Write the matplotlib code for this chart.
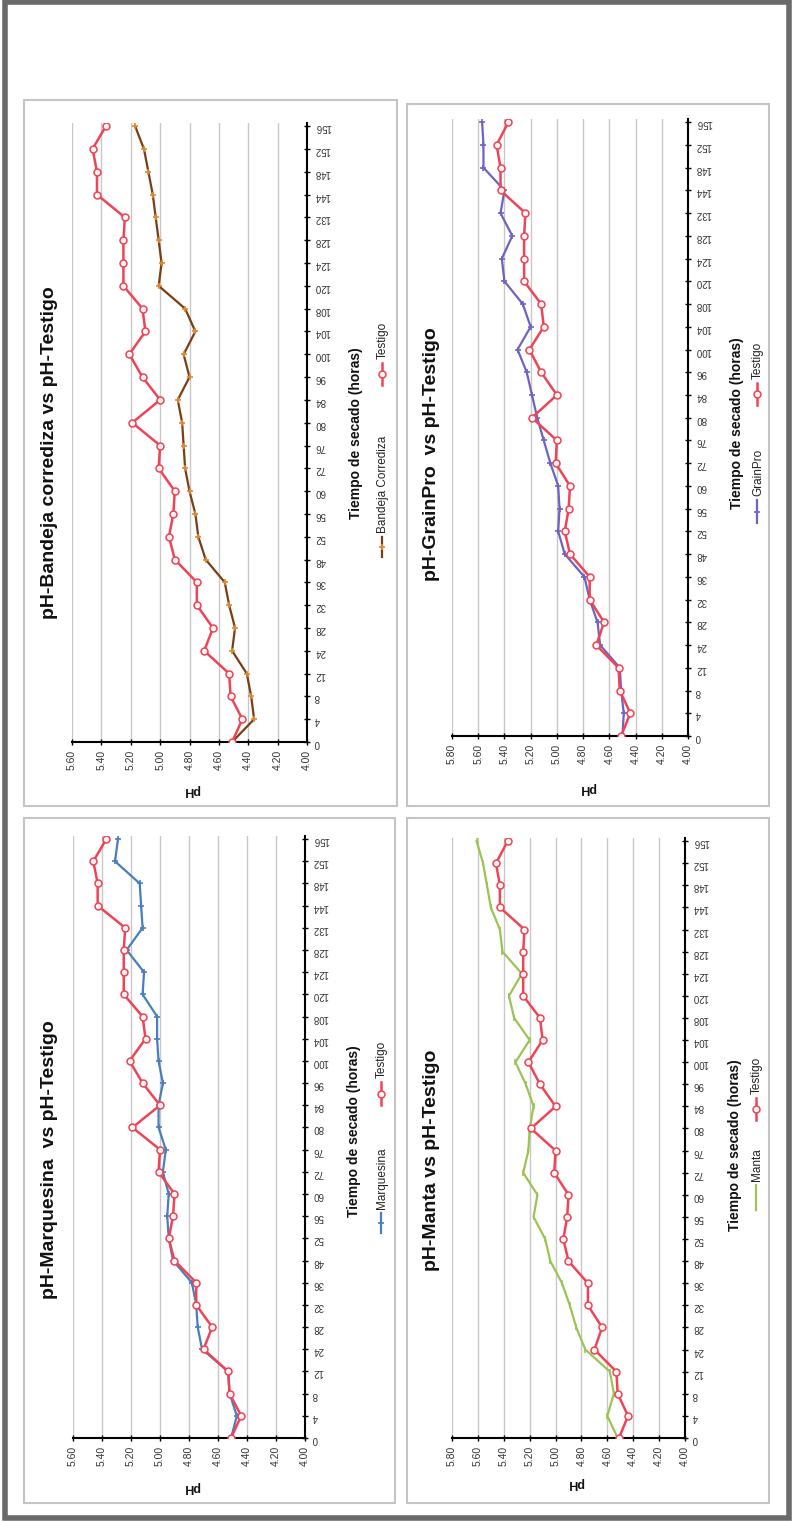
import numpy as np
import matplotlib
matplotlib.use("Agg")
import matplotlib.pyplot as plt
from matplotlib.patches import Rectangle

plt.rcParams['font.family'] = ['Liberation Sans', 'DejaVu Sans']

# ---------------- data ----------------
hours = ["0", "4", "8", "12", "24", "28", "32", "36", "48", "52", "56", "60",
         "72", "76", "80", "84", "96", "100", "104", "108", "120", "124", "128",
         "132", "144", "148", "152", "156"]

testigo = [4.51, 4.44, 4.52, 4.53, 4.70, 4.64, 4.75, 4.75, 4.90, 4.94, 4.91, 4.90,
           5.01, 5.00, 5.19, 5.00, 5.12, 5.21, 5.10, 5.12, 5.25, 5.25, 5.25, 5.24,
           5.43, 5.43, 5.46, 5.37]

bandeja = [4.51, 4.36, 4.38, 4.41, 4.51, 4.49, 4.53, 4.56, 4.69, 4.74, 4.76, 4.80,
           4.83, 4.84, 4.85, 4.88, 4.80, 4.84, 4.76, 4.83, 5.01, 4.99, 5.01, 5.03,
           5.05, 5.08, 5.11, 5.17]

grainpro = [4.50, 4.49, 4.51, 4.52, 4.67, 4.69, 4.75, 4.79, 4.94, 4.99, 4.98, 4.99,
            5.05, 5.10, 5.15, 5.19, 5.23, 5.30, 5.20, 5.26, 5.40, 5.42, 5.34, 5.43,
            5.40, 5.56, 5.56, 5.57]

marquesina = [4.51, 4.47, 4.52, 4.53, 4.71, 4.74, 4.75, 4.78, 4.91, 4.94, 4.95, 4.94,
              4.98, 4.96, 5.01, 5.01, 4.98, 5.01, 5.02, 5.02, 5.12, 5.11, 5.23, 5.12,
              5.13, 5.14, 5.31, 5.29]

manta = [4.52, 4.60, 4.55, 4.58, 4.77, 4.84, 4.89, 4.95, 5.04, 5.08, 5.17, 5.14,
         5.25, 5.21, 5.20, 5.17, 5.23, 5.31, 5.20, 5.32, 5.36, 5.26, 5.41, 5.43,
         5.50, 5.53, 5.56, 5.61]

titles = ["pH-Bandeja corrediza vs pH-Testigo", "pH-GrainPro  vs pH-Testigo",
          "pH-Marquesina  vs pH-Testigo", "pH-Manta vs pH-Testigo"]
series_names = ["Bandeja Corrediza", "GrainPro", "Marquesina", "Manta"]
x_title = "Tiempo de secado (horas)"
y_title = "pH"

# ---------------- layout ----------------
W, H = 792, 1522
fig = plt.figure(figsize=(W / 100, H / 100), dpi=100)
fig.patch.set_facecolor("white")

ov = fig.add_axes([0, 0, 1, 1])
ov.set_xlim(0, W)
ov.set_ylim(H, 0)
ov.axis("off")

# outer frame
ov.add_patch(Rectangle((5, 2), 784, 1516, fill=False, ec="#6a6a6a", lw=4))

TESTIGO_C = "#EE4455"
styles = [
    dict(color="#7A3E14", marker="+", mec="#E08830", ms=5, mew=1.2),
    dict(color="#6E64C0", marker="+", mec="#6E64C0", ms=5, mew=1.2),
    dict(color="#4A7EBB", marker="+", mec="#4A7EBB", ms=5, mew=1.2),
    dict(color="#9CC454", marker="|", mec="#9CC454", ms=5, mew=1.2),
]
data_series = [bandeja, grainpro, marquesina, manta]

panels = [
    dict(frame=(24, 100, 397, 806), plot=(72, 307, 123, 742), pmax=5.6,
         title=(50, 453), xt=(356, 433), yl=(192, 790),
         leg=[(382, 557, 537), (382, 385, 363)]),
    dict(frame=(407, 104, 769, 806), plot=(452, 688, 119, 736), pmax=5.8,
         title=(432, 454), xt=(737, 423), yl=(588, 788),
         leg=[(757, 523, 500), (757, 405, 383)]),
    dict(frame=(24, 818, 395, 1503), plot=(73, 305, 836, 1438), pmax=5.6,
         title=(50, 1160), xt=(354, 1131), yl=(192, 1487),
         leg=[(381, 1233, 1213), (381, 1105, 1082)]),
    dict(frame=(407, 818, 769, 1503), plot=(452, 685, 838, 1438), pmax=5.8,
         title=(432, 1160), xt=(735, 1145), yl=(576, 1483),
         leg=[(756, 1210, 1185), (756, 1120, 1098)]),
]

idx = np.arange(len(hours))

for p, title, name, st, vals in zip(panels, titles, series_names, styles, data_series):
    fx0, fy0, fx1, fy1 = p["frame"]
    ov.add_patch(Rectangle((fx0, fy0), fx1 - fx0, fy1 - fy0, fill=False,
                           ec="#c4c4c4", lw=1.5))
    x0, x1, yt, yb = p["plot"]
    ax = fig.add_axes([x0 / W, 1 - yb / H, (x1 - x0) / W, (yb - yt) / H])
    ax.set_facecolor("none")
    pmax = p["pmax"]
    ax.set_xlim(pmax, 4.0)
    ax.set_ylim(0, 27.14)
    ticks = np.round(np.arange(4.0, pmax + 0.001, 0.2), 2)
    ax.set_xticks(ticks)
    ax.set_xticklabels([f"{t:.2f}" for t in ticks], rotation=90, fontsize=7.5,
                       color="#333333")
    for t in ticks:
        ax.axvline(t, color="#c8c8c8", lw=1, zorder=0)
    ax.yaxis.tick_right()
    ax.set_yticks(idx)
    ax.set_yticklabels(hours, rotation=180, fontsize=7, color="#333333")
    ax.tick_params(axis="y", direction="inout", length=5, width=1, pad=3)
    ax.tick_params(axis="x", direction="inout", length=5, width=1, pad=3)
    for s in ("top", "left"):
        ax.spines[s].set_visible(False)
    for s in ("bottom", "right"):
        ax.spines[s].set_linewidth(1.5)
        ax.spines[s].set_color("black")

    ax.plot(vals, idx, color=st["color"], lw=1.6, marker=st["marker"],
            mec=st["mec"], ms=st["ms"], mew=st["mew"], zorder=3)
    ax.plot(testigo, idx, color=TESTIGO_C, lw=1.8, marker="o", ms=5,
            mfc="#fff4f4", mec=TESTIGO_C, mew=1.1, zorder=4)

    tx, ty = p["title"]
    ov.text(tx, ty, title, rotation=90, ha="center", va="center",
            fontsize=14, fontweight="bold", color="#111111")
    xx, xy = p["xt"]
    ov.text(xx, xy, x_title, rotation=90, ha="center", va="center",
            fontsize=10, fontweight="bold", color="#111111")
    yx, yy = p["yl"]
    ov.text(yx, yy, y_title, rotation=180, ha="center", va="center",
            fontsize=9, fontweight="bold", color="#111111")
    entries = [(name, st, False), ("Testigo", None, True)]
    for (lx, m0, m1), (lab, sst, is_t) in zip(p["leg"], entries):
        if is_t:
            ov.plot([lx, lx], [m0, m1], color=TESTIGO_C, lw=1.8)
            ov.plot([lx], [(m0 + m1) / 2], marker="o", ms=5, mfc="#fff4f4",
                    mec=TESTIGO_C, mew=1.1)
        else:
            ov.plot([lx, lx], [m0, m1], color=sst["color"], lw=1.6)
            ov.plot([lx], [(m0 + m1) / 2], marker=sst["marker"], ms=sst["ms"],
                    mec=sst["mec"], mew=sst["mew"], color=sst["color"])
        ov.text(lx + 1, m1 - 4, lab, rotation=90, ha="center", va="bottom",
                fontsize=8.5, color="#222222")

fig.savefig("out.png", dpi=100, facecolor="white")
